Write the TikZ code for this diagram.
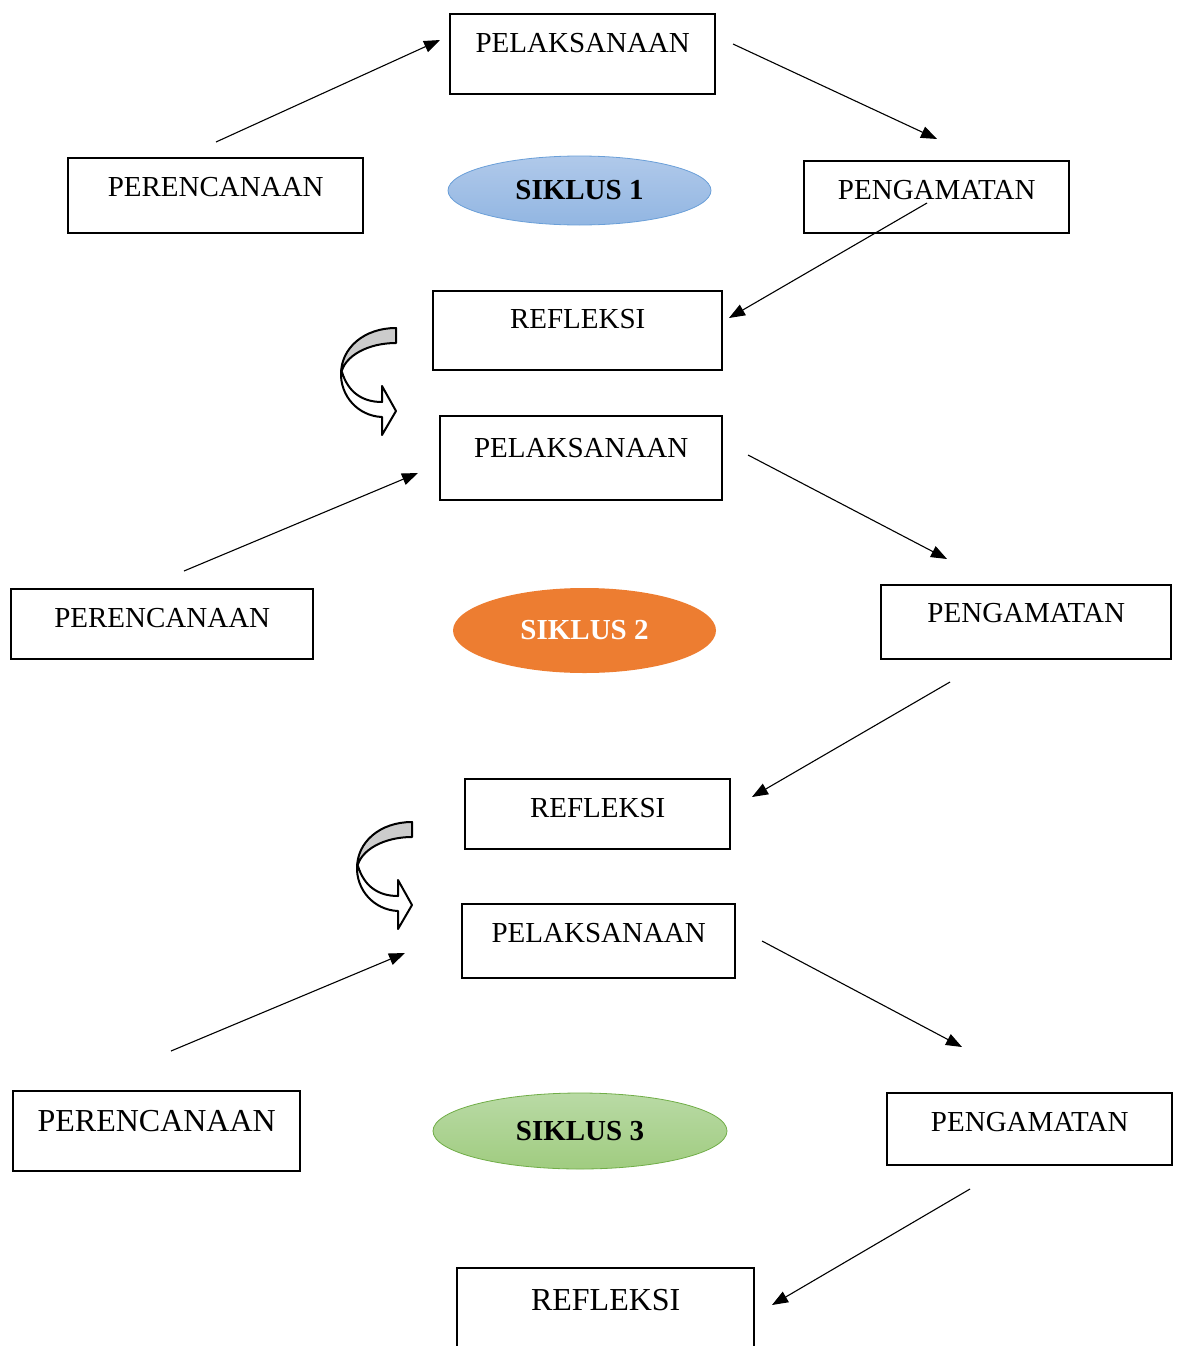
\documentclass[tikz,border=0pt]{standalone}
\usepackage{fontspec}
\setmainfont{Liberation Serif}
\usetikzlibrary{arrows.meta,shapes.geometric}
\definecolor{blueT}{RGB}{176,201,234}
\definecolor{blueB}{RGB}{146,182,226}
\definecolor{blueD}{RGB}{106,159,216}
\definecolor{greenT}{RGB}{185,218,165}
\definecolor{greenB}{RGB}{160,204,128}
\definecolor{greenD}{RGB}{112,173,71}
\definecolor{orangeF}{RGB}{237,125,49}
\begin{document}
\begin{tikzpicture}[x=1pt,y=-1pt,
  box/.style={draw,line width=2.4pt,inner sep=0pt,anchor=north west,font=\fontsize{29}{34}\selectfont},
  bigbox/.style={box,font=\fontsize{32}{38}\selectfont},
  siklus/.style={ellipse,inner sep=0pt,font=\fontsize{29}{34}\selectfont\bfseries},
  arr/.style={line width=1.1pt,-{Triangle[length=16pt,width=12pt]}},
  curvarrow/.pic={
    \draw[line width=2pt,fill=white,line join=round]
      (2,44) .. controls (8,64) and (22,74) .. (42,74) -- (42,58) -- (56,83) -- (42,107) -- (42,89)
      .. controls (18,88) and (0,68) .. (1,44) -- cycle;
    \draw[line width=2pt,fill=gray!40,line join=round]
      (56,0) .. controls (24,0) and (1,20) .. (1,46) .. controls (4,28) and (28,15) .. (56,15) -- cycle;
  }
]
\useasboundingbox (0,0) rectangle (1176,1346);

% cycle 1
\node[box,minimum width=265pt,text height=38pt,text depth=42pt] (pel1) at (449,13) {PELAKSANAAN};
\node[box,minimum width=295pt,text height=38pt,text depth=37pt] (per1) at (67,157) {PERENCANAAN};
\node[box,minimum width=265pt,text height=38pt,text depth=34pt] (pen1) at (803,160) {PENGAMATAN};
\node[box,minimum width=289pt,text height=37pt,text depth=42pt] (ref1) at (432,290) {REFLEKSI};
\node[siklus,shade,top color=blueT,bottom color=blueB,draw=blueD,line width=0.8pt,
      minimum width=263pt,minimum height=69pt] (sik1) at (579.5,190.5) {SIKLUS 1};

% cycle 2
\node[box,minimum width=282pt,text height=41pt,text depth=43pt] (pel2) at (439,415) {PELAKSANAAN};
\node[box,minimum width=302pt,text height=38pt,text depth=32pt] (per2) at (10,588) {PERENCANAAN};
\node[box,minimum width=290pt,text height=37pt,text depth=37pt] (pen2) at (880,584) {PENGAMATAN};
\node[box,minimum width=265pt,text height=38pt,text depth=32pt] (ref2) at (464,778) {REFLEKSI};
\node[siklus,fill=orangeF,text=white,
      minimum width=263pt,minimum height=85pt] (sik2) at (584.5,630.5) {SIKLUS 2};

% cycle 3
\node[box,minimum width=273pt,text height=38pt,text depth=36pt] (pel3) at (461,903) {PELAKSANAAN};
\node[bigbox,minimum width=287pt,text height=40pt,text depth=40pt] (per3) at (12,1090) {PERENCANAAN};
\node[box,minimum width=285pt,text height=38pt,text depth=34pt] (pen3) at (886,1092) {PENGAMATAN};
\node[bigbox,minimum width=297pt,text height=42pt,text depth=45pt] (ref3) at (456,1267) {REFLEKSI};
\node[siklus,shade,top color=greenT,bottom color=greenB,draw=greenD,line width=0.8pt,
      minimum width=294pt,minimum height=76pt] (sik3) at (580,1131) {SIKLUS 3};

% arrows
\coordinate (a1s) at (216,142);  \coordinate (a1e) at (440,40);
\coordinate (a2s) at (733,44);   \coordinate (a2e) at (937,139);
\coordinate (a3s) at (927,203);  \coordinate (a3e) at (729,318);
\coordinate (a4s) at (184,571);  \coordinate (a4e) at (418,473);
\coordinate (a5s) at (748,455);  \coordinate (a5e) at (947,559);
\coordinate (a6s) at (950,682);  \coordinate (a6e) at (752,797);
\coordinate (a7s) at (171,1051); \coordinate (a7e) at (405,953);
\coordinate (a8s) at (762,941);  \coordinate (a8e) at (962,1047);
\coordinate (a9s) at (970,1189); \coordinate (a9e) at (772,1305);
\foreach \i in {1,...,9} { \draw[arr] (a\i s) -- (a\i e); }

% curved arrows
\pic at (340,328) {curvarrow};
\pic at (356,822) {curvarrow};
\end{tikzpicture}
\end{document}
